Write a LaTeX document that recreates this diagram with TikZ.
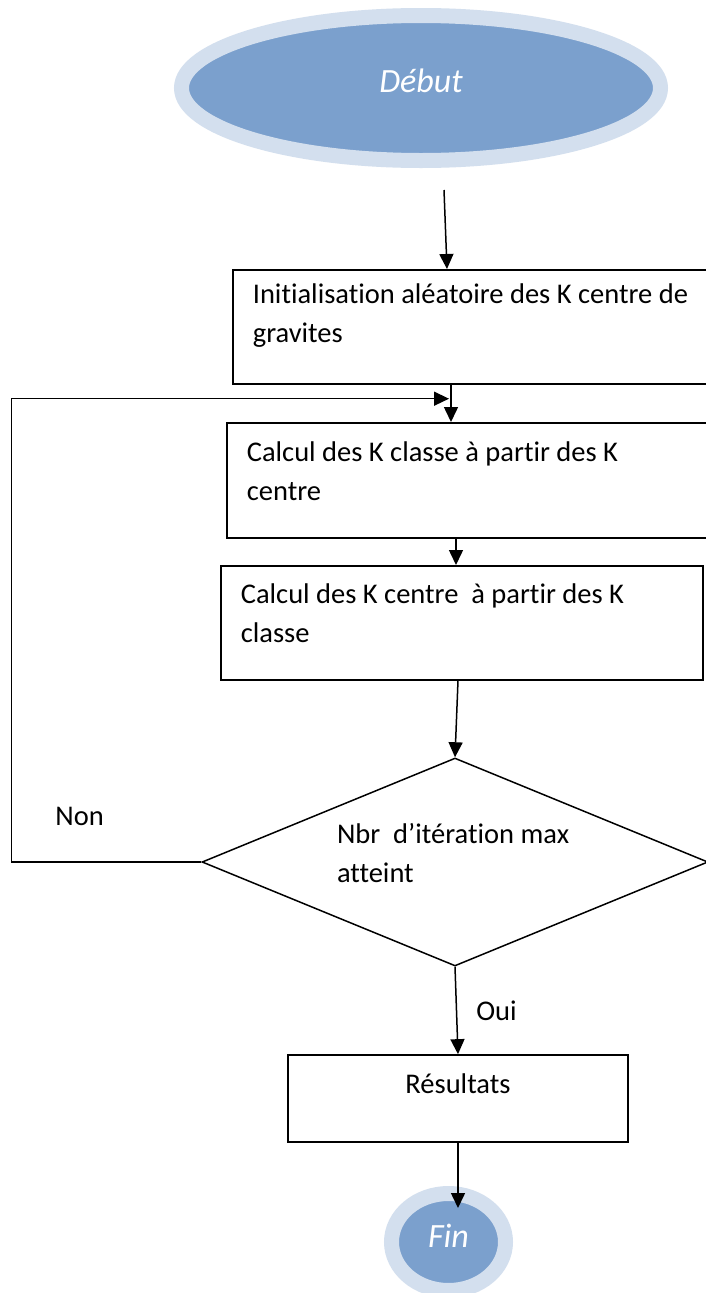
\documentclass[tikz,border=0pt]{standalone}
\usepackage{fontspec}
\setmainfont{Carlito}[Ligatures=NoCommon]
\usetikzlibrary{arrows.meta,shapes.geometric,positioning}
\definecolor{termfill}{RGB}{123,160,205}
\definecolor{termring}{RGB}{211,223,238}
\tikzset{
  terminal/.style={ellipse, fill=termfill, draw=termring, line width=15pt,
    inner sep=0pt, text=white, font=\fontsize{34}{40}\selectfont\itshape},
  stepbox/.style={draw, line width=1.7pt, anchor=north west, align=flush left,
    inner xsep=20pt, inner ysep=0pt, font=\fontsize{28.5}{39}\selectfont},
  decision/.style={diamond, draw, line width=1.5pt, aspect=2.43, inner sep=0pt,
    align=flush left, font=\fontsize{28.5}{39}\selectfont},
  edgelabel/.style={inner sep=0pt, font=\fontsize{28.5}{39}\selectfont},
  flow/.style={-{Triangle[length=15pt, width=14pt]}, line width=1.5pt},
}

\begin{document}
\begin{tikzpicture}[x=1pt, y=-1pt]
\useasboundingbox[fill=white] (0,0) rectangle (705,1293);

% Start and steps
\node[terminal, minimum width=479pt, minimum height=145pt,
  text height=24pt, text depth=16pt] (debut) at (421,88) {Début};

\node[stepbox, text width=453pt, text height=34pt, text depth=80pt] (init) at (232,269)
  {Initialisation aléatoire des K centre de\\gravites};
\node[stepbox, text width=459pt, text height=39pt, text depth=76pt] (classes) at (226,422)
  {Calcul des K classe à partir des K\\centre};
\node[stepbox, text width=442pt, text height=38pt, text depth=76pt] (centres) at (220,565)
  {Calcul des K centre~ à partir des K\\classe};

% Test and end
\node[decision, minimum width=506pt, minimum height=208pt, text width=236pt,
  text height=22pt, text depth=60pt] (test) at (455,862)
  {Nbr~ d’itération max\\atteint};
\node[stepbox, anchor=center, align=center, text width=300pt,
  text height=38pt, text depth=49pt] (result) at (458,1098.5) {Résultats};
\node[terminal, minimum width=114pt, minimum height=97pt,
  text height=24pt, text depth=14pt] (fin) at (448.5,1242) {Fin};

\coordinate (merge) at ([xshift=217pt,yshift=-14pt]init.south west);

\draw[flow] ([xshift=23pt,yshift=-22pt]debut.south) -- ([xshift=215pt]init.north west);
\draw[flow] ([xshift=219pt]init.south west) -- ([xshift=225pt]classes.north west);
\draw[flow] ([xshift=230pt]classes.south west) -- ([xshift=236pt]centres.north west);
\draw[flow] ([xshift=238pt]centres.south west) -- (test.north);
\draw[flow] (test.west) -- node[edgelabel, pos=0.64, above=36pt] {Non} ++(-190,0) |- (merge);
\draw[flow] (test.south) -- node[edgelabel, right=19pt] {Oui} (result.north);
\draw[flow, shorten >=-22pt] (result.south) -- (result.south |- fin.north);

\end{tikzpicture}
\end{document}
